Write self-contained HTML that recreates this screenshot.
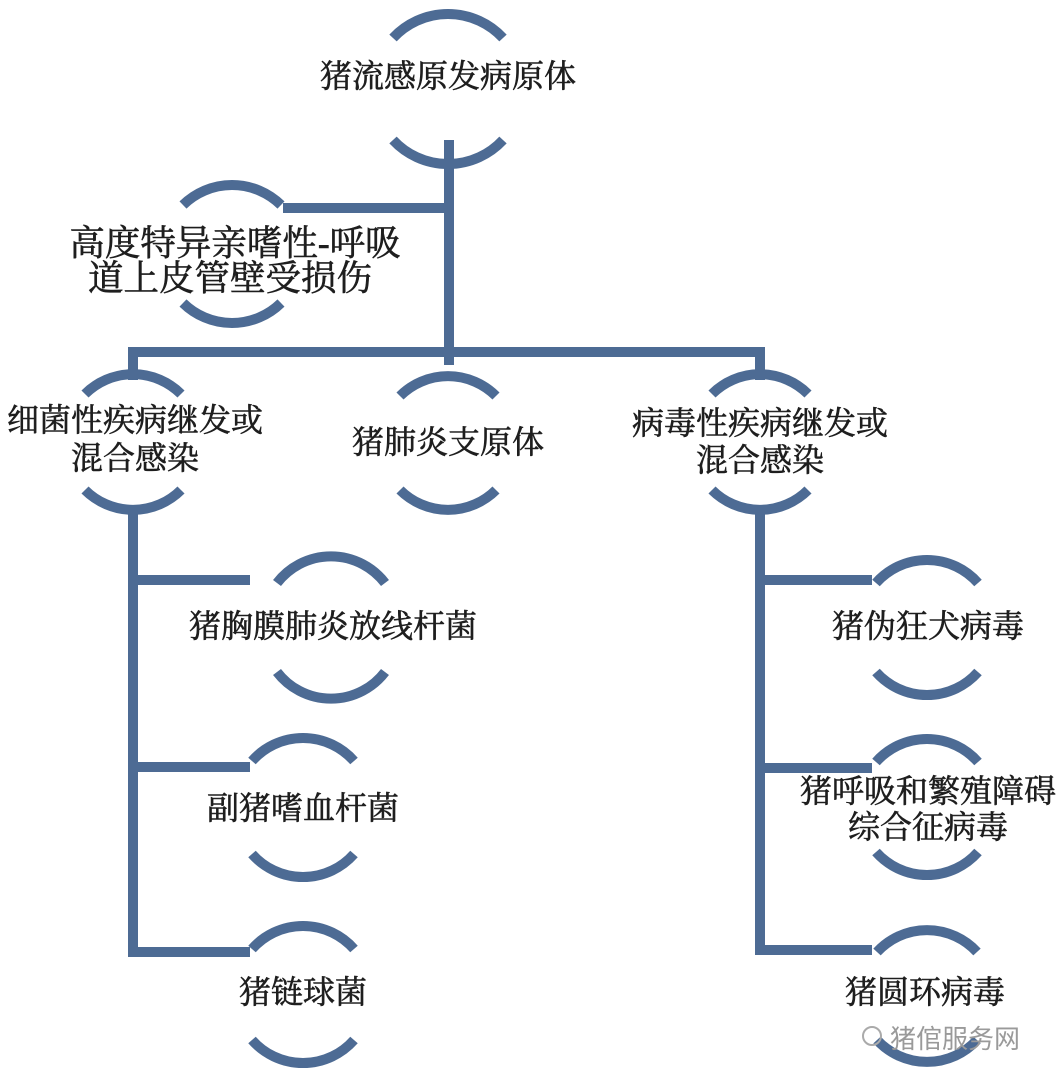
<!DOCTYPE html>
<html><head><meta charset="utf-8"><style>
html,body{margin:0;padding:0;background:#fff}
svg{display:block}
text{font-family:"Liberation Serif","Noto Serif CJK SC",serif;fill:#1e1e1e;stroke:#1e1e1e;stroke-width:0.6;font-size:32px;text-anchor:middle;dominant-baseline:central}
</style></head><body>
<svg width="1062" height="1085" viewBox="0 0 1062 1085" xmlns="http://www.w3.org/2000/svg">
<g stroke="#4d6b94" stroke-width="10" fill="none">
<path d="M449 140 V365"/>
<path d="M283 208 H449"/>
<path d="M133 380 V352 H760 V380"/>
<path d="M133 505 V952 H250"/>
<path d="M133 580 H250 M133 767 H250"/>
<path d="M760 505 V950 H872"/>
<path d="M760 580 H872 M760 768 H872"/>
<path d="M393 38 A75 75 0 0 1 503 38 M393 140 A75 75 0 0 0 503 140"/>
<path d="M183 205 A70 70 0 0 1 281 205 M183 303 A70 70 0 0 0 281 303"/>
<path d="M85 394 A68 68 0 0 1 181 394 M85 490 A68 68 0 0 0 181 490"/>
<path d="M400 396 A68 68 0 0 1 496 396 M400 490 A68 68 0 0 0 496 490"/>
<path d="M712 394 A68 68 0 0 1 808 394 M712 490 A68 68 0 0 0 808 490"/>
<path d="M277 583 A68 68 0 0 1 385 583 M277 672 A68 68 0 0 0 385 672"/>
<path d="M252 761 A68 68 0 0 1 354 761 M252 854 A68 68 0 0 0 354 854"/>
<path d="M252 949 A68 68 0 0 1 354 949 M252 1040 A68 68 0 0 0 354 1040"/>
<path d="M876 583 A68 68 0 0 1 978 583 M876 672 A68 68 0 0 0 978 672"/>
<path d="M876 762 A68 68 0 0 1 978 762 M876 852 A68 68 0 0 0 978 852"/>
<path d="M877 952 A68 68 0 0 1 977 952 M877 1040 A68 68 0 0 0 977 1040"/>
</g>
<text x="235" y="243" style="font-size:35.5px">高度特异亲嗜性-呼吸</text>
<text x="230" y="278" style="font-size:35.5px">道上皮管壁受损伤</text>
<text x="448" y="76">猪流感原发病原体</text>
<text x="135" y="420">细菌性疾病继发或</text>
<text x="135" y="458">混合感染</text>
<text x="448" y="442">猪肺炎支原体</text>
<text x="760" y="423">病毒性疾病继发或</text>
<text x="760" y="460">混合感染</text>
<text x="333" y="626">猪胸膜肺炎放线杆菌</text>
<text x="303" y="808">副猪嗜血杆菌</text>
<text x="303" y="992">猪链球菌</text>
<text x="928" y="626">猪伪狂犬病毒</text>
<text x="928" y="791">猪呼吸和繁殖障碍</text>
<text x="928" y="827">综合征病毒</text>
<text x="925" y="992">猪圆环病毒</text>
<text x="955" y="1039" style="font-size:26px;fill:#9a9a9a;stroke:none;font-family:'Liberation Sans','Noto Sans CJK SC',sans-serif">猪倌服务网</text>
<circle cx="872" cy="1036" r="9" fill="none" stroke="#aaa" stroke-width="2"/>
</svg>
</body></html>
